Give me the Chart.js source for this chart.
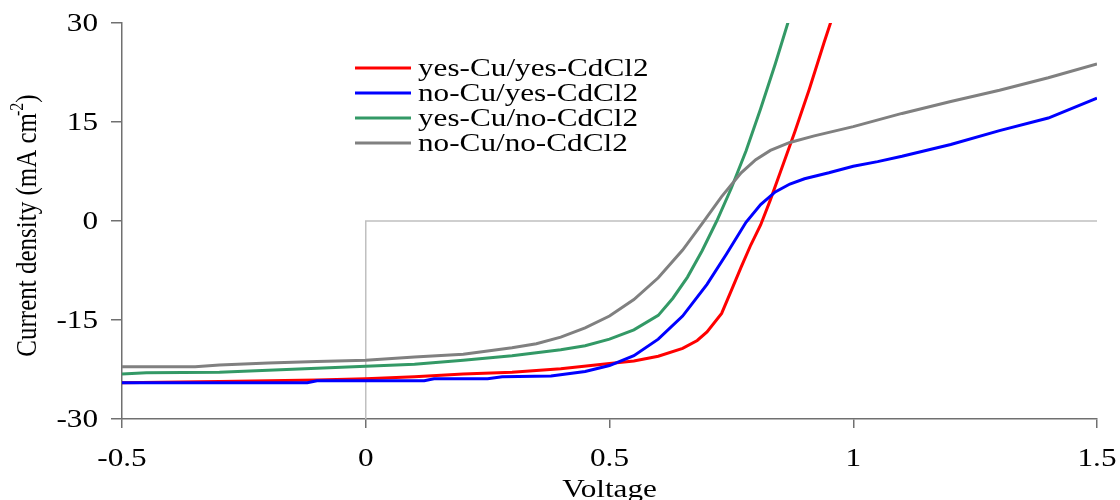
<!DOCTYPE html>
<html>
<head>
<meta charset="utf-8">
<script src="https://cdn.jsdelivr.net/npm/chart.js@4.4.0/dist/chart.umd.min.js"></script>
<style>
  html, body { margin: 0; padding: 0; background: #fff; }
  #wrap { width: 1120px; height: 500px; position: relative; }
</style>
</head>
<body>
<div id="wrap"><canvas id="chart-jv" width="1120" height="500"></canvas></div>
<script>
// ── Data ──────────────────────────────────────────────────────────────────────

const LABELS = ['yes-Cu/yes-CdCl2', 'no-Cu/yes-CdCl2', 'yes-Cu/no-CdCl2', 'no-Cu/no-CdCl2'];
const COLORS = ['#ff0000', '#0000ff', '#339966', '#808080'];

const redV  = [-0.5, -0.3, -0.1, 0, 0.1, 0.2, 0.3, 0.4, 0.5, 0.55, 0.6, 0.65, 0.68, 0.7, 0.73, 0.75, 0.77, 0.79, 0.81, 0.83, 0.85, 0.88, 0.91, 0.94, 0.96];
const redJ  = [-24.5, -24.3, -24.1, -23.9, -23.6, -23.2, -22.9, -22.4, -21.6, -21.2, -20.5, -19.3, -18.1, -16.8, -14.0, -10.5, -7.0, -3.6, -0.6, 3.2, 7.3, 13.5, 20.0, 27.0, 31.5];

const blueV = [-0.5, -0.3, -0.12, -0.1, 0, 0.12, 0.14, 0.25, 0.28, 0.38, 0.45, 0.5, 0.55, 0.6, 0.65, 0.7, 0.74, 0.78, 0.81, 0.84, 0.87, 0.9, 0.95, 1.0, 1.05, 1.1, 1.2, 1.3, 1.4, 1.5];
const blueJ = [-24.5, -24.5, -24.5, -24.2, -24.2, -24.2, -23.9, -23.9, -23.6, -23.5, -22.8, -21.9, -20.4, -17.9, -14.4, -9.6, -5.0, -0.2, 2.5, 4.4, 5.6, 6.4, 7.3, 8.3, 9.0, 9.8, 11.6, 13.7, 15.6, 18.6];

const greenV = [-0.5, -0.45, -0.3, -0.2, -0.1, 0, 0.1, 0.2, 0.3, 0.4, 0.45, 0.5, 0.55, 0.6, 0.63, 0.66, 0.69, 0.72, 0.75, 0.78, 0.81, 0.84, 0.87];
const greenJ = [-23.2, -23.0, -22.9, -22.6, -22.3, -22.0, -21.7, -21.1, -20.4, -19.5, -18.9, -17.9, -16.5, -14.3, -11.7, -8.5, -4.5, 0, 5.0, 10.6, 17.0, 23.8, 31];

const greyV = [-0.5, -0.35, -0.3, -0.2, -0.1, 0, 0.1, 0.2, 0.3, 0.35, 0.4, 0.45, 0.5, 0.55, 0.6, 0.65, 0.69, 0.73, 0.77, 0.8, 0.83, 0.87, 0.92, 1.0, 1.1, 1.2, 1.3, 1.4, 1.5];
const greyJ = [-22.1, -22.1, -21.8, -21.5, -21.3, -21.1, -20.6, -20.2, -19.2, -18.6, -17.6, -16.2, -14.4, -11.9, -8.6, -4.4, -0.4, 3.7, 7.3, 9.3, 10.7, 11.9, 12.9, 14.3, 16.3, 18.1, 19.8, 21.7, 23.8];

// light grey guide lines through the origin
const guideV = [0, 0, 1.5];
const guideJ = [-30, 0, 0];

const X_MIN = -0.5, X_MAX = 1.5, X_STEP = 0.5;
const Y_MIN = -30,  Y_MAX = 30,  Y_STEP = 15;

const FONT = '"Liberation Serif", "Times New Roman", serif';
const FS = 26;        // text size
const STRETCH = 1.2;  // the original picture's text is widened

function pts(xs, ys) {
  return xs.map((x, i) => ({ x, y: ys[i] }));
}

// widened text helper
function wideText(ctx, str, x, y, align) {
  ctx.save();
  ctx.translate(x, y);
  ctx.scale(STRETCH, 1);
  ctx.textAlign = align;
  ctx.fillText(str, 0, 0);
  ctx.restore();
}

// ── Custom text: tick labels, axis titles, legend inside the plot ─────────────

const decorations = {
  id: 'decorations',
  afterDraw(chart) {
    const ctx = chart.ctx;
    const area = chart.chartArea;
    const xs = chart.scales.x, ys = chart.scales.y;
    ctx.save();
    ctx.fillStyle = '#000';
    ctx.font = FS + 'px ' + FONT;
    ctx.textBaseline = 'middle';

    // tick labels
    xs.ticks.forEach(t => wideText(ctx, String(t.value), xs.getPixelForValue(t.value), 459, 'center'));
    ys.ticks.forEach(t => wideText(ctx, String(t.value), 98, ys.getPixelForValue(t.value) + 1, 'right'));

    // x title
    ctx.textBaseline = 'alphabetic';
    wideText(ctx, 'Voltage', (area.left + area.right) / 2, 497, 'center');

    // y title, rotated, with superscript -2
    ctx.save();
    ctx.translate(36, 224);
    ctx.scale(STRETCH, 1);
    ctx.rotate(-Math.PI / 2);
    const main = 'Current density (mA cm';
    const sup = '-2';
    const tail = ')';
    ctx.textAlign = 'left';
    ctx.font = '25px ' + FONT;
    const wMain = ctx.measureText(main).width;
    const wTail = ctx.measureText(tail).width;
    ctx.font = '16px ' + FONT;
    const wSup = ctx.measureText(sup).width;
    const x0 = -(wMain + wSup + wTail) / 2;
    ctx.font = '25px ' + FONT;
    ctx.fillText(main, x0, 0);
    ctx.font = '16px ' + FONT;
    ctx.fillText(sup, x0 + wMain - 3, -11);
    ctx.font = '25px ' + FONT;
    ctx.fillText(tail, x0 + wMain + wSup - 3, 0);
    ctx.restore();

    // legend
    ctx.font = FS + 'px ' + FONT;
    ctx.textBaseline = 'middle';
    LABELS.forEach((label, i) => {
      const y = 68 + i * 25;
      ctx.strokeStyle = COLORS[i];
      ctx.lineWidth = 3;
      ctx.beginPath();
      ctx.moveTo(355, y);
      ctx.lineTo(411, y);
      ctx.stroke();
      wideText(ctx, label, 418, y + 1, 'left');
    });
    ctx.restore();
  },
};

// ── Chart ─────────────────────────────────────────────────────────────────────

const series = [
  pts(redV, redJ), pts(blueV, blueJ), pts(greenV, greenJ), pts(greyV, greyJ),
];

const datasets = series.map((data, i) => ({
  label: LABELS[i],
  data,
  borderColor: COLORS[i],
  backgroundColor: COLORS[i],
  borderWidth: 3,
  pointRadius: 0,
  showLine: true,
  tension: 0,
  order: 4 - i,
}));

datasets.push({
  label: 'guide',
  data: pts(guideV, guideJ),
  borderColor: '#c0c0c0',
  borderWidth: 1.5,
  pointRadius: 0,
  showLine: true,
  order: 10,
});

new Chart(document.getElementById('chart-jv'), {
  type: 'scatter',
  data: { datasets },
  options: {
    responsive: false,
    animation: false,
    events: [],
    layout: { padding: { left: 0, top: 23, right: 23, bottom: 0 } },
    plugins: {
      legend: { display: false },
      tooltip: { enabled: false },
    },
    scales: {
      x: {
        type: 'linear',
        min: X_MIN, max: X_MAX,
        afterFit: s => { s.height = 81; },
        border: { display: true, color: '#707070', width: 1.5 },
        grid: { drawOnChartArea: false, drawTicks: true, tickLength: 9, color: '#707070', lineWidth: 1.5 },
        ticks: { stepSize: X_STEP, display: false },
      },
      y: {
        type: 'linear',
        min: Y_MIN, max: Y_MAX,
        afterFit: s => { s.width = 122; },
        border: { display: true, color: '#707070', width: 1.5 },
        grid: { drawOnChartArea: false, drawTicks: true, tickLength: 11, color: '#707070', lineWidth: 1.5 },
        ticks: { stepSize: Y_STEP, display: false },
      },
    },
  },
  plugins: [decorations],
});
</script>
</body>
</html>
